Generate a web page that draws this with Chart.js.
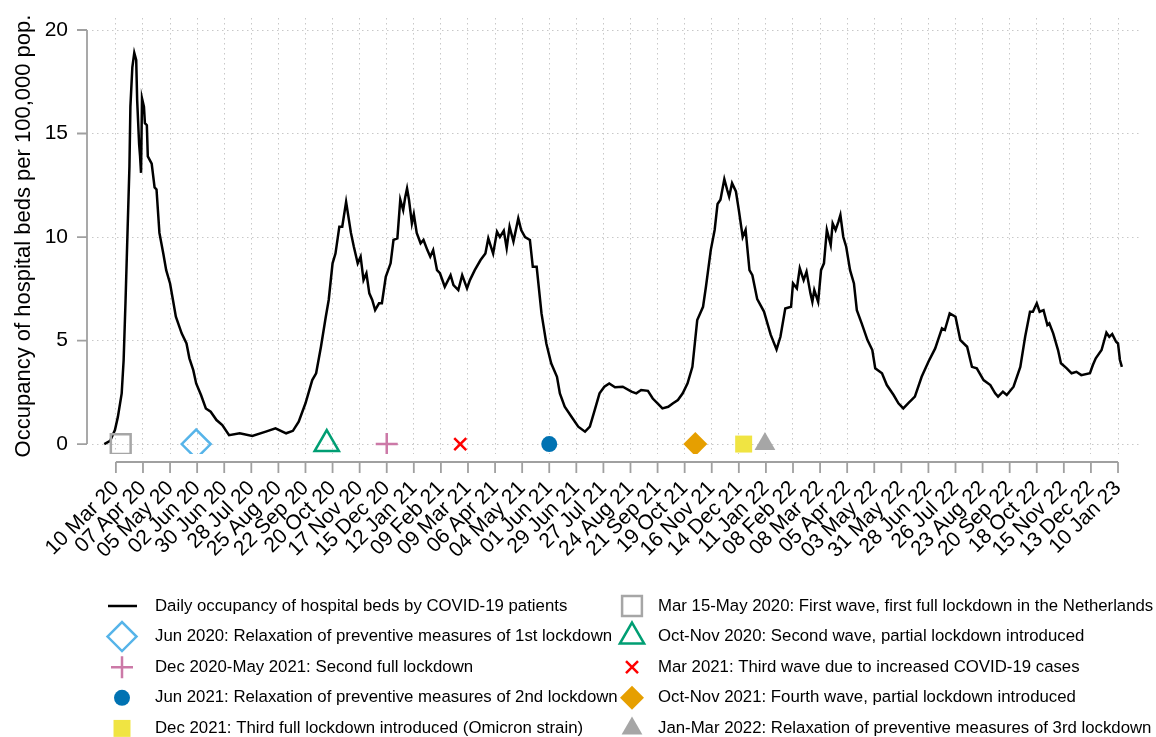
<!DOCTYPE html>
<html>
<head>
<meta charset="utf-8">
<script src="https://cdn.jsdelivr.net/npm/chart.js@4/dist/chart.umd.min.js"></script>
<style>
  html, body { margin: 0; padding: 0; background: #fff; }
  #wrap { width: 1156px; height: 737px; }
</style>
</head>
<body>
<div id="wrap"><canvas id="occChart" width="1156" height="737"></canvas></div>
<script>
// x labels, one every 28 days starting 10 Mar 2020
const tickLabels = ['10 Mar 20', '07 Apr 20', '05 May 20', '02 Jun 20', '30 Jun 20', '28 Jul 20', '25 Aug 20',
  '22 Sep 20', '20 Oct 20', '17 Nov 20', '15 Dec 20', '12 Jan 21', '09 Feb 21', '09 Mar 21', '06 Apr 21',
  '04 May 21', '01 Jun 21', '29 Jun 21', '27 Jul 21', '24 Aug 21', '21 Sep 21', '19 Oct 21', '16 Nov 21',
  '14 Dec 21', '11 Jan 22', '08 Feb 22', '08 Mar 22', '05 Apr 22', '03 May 22', '31 May 22', '28 Jun 22',
  '26 Jul 22', '23 Aug 22', '20 Sep 22', '18 Oct 22', '15 Nov 22', '13 Dec 22', '10 Jan 23'];
const tickStep = 28;
const yTicks = [0, 5, 10, 15, 20];

// days since 10 Mar 2020
const days = [-12, -6, -1, 2, 6, 8, 10, 12, 14, 15, 17, 19, 21, 22, 24, 25, 26, 27, 29, 30, 32, 33, 37, 40, 42,
  45, 49, 52, 56, 59, 62, 68, 73, 76, 80, 83, 88, 93, 98, 104, 110, 117, 128, 141, 155, 165, 176, 183, 189,
  196, 203, 207, 212, 217, 220, 224, 227, 231, 234, 238, 243, 246, 250, 253, 256, 259, 262, 265, 268, 272,
  275, 279, 284, 287, 291, 294, 297, 299, 301, 303, 306, 308, 311, 315, 318, 322, 325, 328, 332, 335, 340,
  346, 349, 354, 358, 363, 366, 371, 377, 382, 385, 390, 394, 397, 401, 404, 407, 411, 416, 419, 423, 428,
  431, 435, 440, 445, 450, 456, 459, 464, 471, 478, 485, 490, 495, 500, 505, 510, 516, 524, 533, 538, 543,
  550, 555, 560, 565, 571, 576, 581, 586, 591, 596, 601, 607, 610, 615, 619, 622, 625, 629, 632, 634, 637,
  641, 644, 648, 651, 655, 658, 663, 670, 677, 683, 687, 692, 698, 700, 704, 707, 711, 714, 718, 720, 722,
  726, 729, 732, 735, 739, 741, 744, 747, 749, 752, 755, 759, 763, 766, 771, 777, 782, 785, 792, 797, 804,
  809, 814, 819, 826, 833, 840, 847, 854, 857, 862, 868, 873, 880, 885, 890, 897, 904, 909, 912, 917, 921,
  928, 935, 940, 945, 948, 952, 955, 959, 963, 965, 969, 974, 977, 983, 988, 993, 998, 1007, 1010, 1013,
  1019, 1024, 1027, 1030, 1034, 1036, 1038, 1040];
const occupancy = [0, 0.15, 0.68, 1.3, 2.45, 4.05, 6.96, 10.2, 13.4, 16.3, 18.2, 18.9, 18.55, 16.6, 14.5, 13.9,
  13.1, 16.7, 16.3, 15.5, 15.4, 13.9, 13.55, 12.4, 12.3, 10.2, 9.2, 8.4, 7.76, 6.96, 6.15, 5.35, 4.86, 4.14,
  3.57, 2.93, 2.37, 1.72, 1.56, 1.16, 0.92, 0.43, 0.52, 0.39, 0.6, 0.76, 0.52, 0.64, 1.08, 1.97, 3.09, 3.42,
  4.7, 6.15, 6.96, 8.73, 9.2, 10.5, 10.5, 11.7, 10.2, 9.53, 8.73, 9.05, 7.92, 8.25, 7.28, 6.96, 6.47, 6.8,
  6.8, 8.08, 8.73, 9.86, 9.94, 11.8, 11.3, 11.9, 12.35, 11.8, 10.66, 11.1, 10.2, 9.7, 9.86, 9.37, 9.05, 9.37,
  8.4, 8.25, 7.6, 8.16, 7.68, 7.44, 8.16, 7.52, 7.92, 8.4, 8.89, 9.2, 9.94, 9.2, 10.26, 10.0, 10.3, 9.46,
  10.5, 9.78, 10.9, 10.34, 10.0, 9.86, 8.56, 8.56, 6.31, 4.86, 3.9, 3.25, 2.45, 1.8, 1.32, 0.84, 0.6, 0.84,
  1.64, 2.45, 2.77, 2.93, 2.74, 2.77, 2.53, 2.45, 2.61, 2.57, 2.2, 1.97, 1.72, 1.8, 1.97, 2.13, 2.45, 2.93,
  3.73, 5.99, 6.63, 7.6, 9.37, 10.34, 11.6, 11.8, 12.8, 12.27, 11.95, 12.6, 12.2, 11.3, 10.0, 10.34, 8.4,
  8.16, 7.0, 6.4, 5.27, 4.57, 5.18, 6.55, 6.63, 7.76, 7.52, 8.49, 7.92, 8.33, 7.28, 6.87, 7.44, 6.87, 8.4,
  8.73, 10.34, 9.61, 10.66, 10.34, 10.74, 11.06, 10.0, 9.53, 8.4, 7.76, 6.47, 5.83, 5.02, 4.54, 3.66, 3.42,
  2.85, 2.37, 1.97, 1.72, 1.97, 2.29, 3.25, 3.98, 4.62, 5.59, 5.51, 6.31, 6.15, 5.02, 4.7, 3.73, 3.66, 3.09,
  2.85, 2.45, 2.29, 2.53, 2.37, 2.77, 3.73, 5.18, 6.39, 6.39, 6.8, 6.39, 6.47, 5.75, 5.83, 5.35, 4.54, 3.9,
  3.66, 3.42, 3.49, 3.33, 3.42, 3.82, 4.14, 4.54, 5.38, 5.18, 5.31, 4.94, 4.86, 4.06, 3.73];
const seriesName = 'Daily occupancy of hospital beds by COVID-19 patients';

// events, drawn on the zero line
const eventNames = [
  'Mar 15-May 2020: First wave, first full lockdown in the Netherlands',
  'Jun 2020: Relaxation of preventive measures of 1st lockdown',
  'Oct-Nov 2020: Second wave, partial lockdown introduced',
  'Dec 2020-May 2021: Second full lockdown',
  'Mar 2021: Third wave due to increased COVID-19 cases',
  'Jun 2021: Relaxation of preventive measures of 2nd lockdown',
  'Oct-Nov 2021: Fourth wave, partial lockdown introduced',
  'Dec 2021: Third full lockdown introduced (Omicron strain)',
  'Jan-Mar 2022: Relaxation of preventive measures of 3rd lockdown'
];
const eventDays = [5, 83, 218, 280, 356, 448, 599, 649, 671];
const eventValues = [0, 0, 0, 0, 0, 0, 0, 0, 0];

// marker look for each event
const markerStyles = [
  { shape: 'rect', r: 14, color: '#a6a6a6', hollow: true },
  { shape: 'rectRot', r: 14.5, color: '#56b4e9', hollow: true },
  { shape: 'triangle', r: 14, color: '#009e73', hollow: true },
  { shape: 'cross', r: 11, color: '#cc79a7', hollow: true },
  { shape: 'crossRot', r: 8.5, color: '#ff0000', hollow: true },
  { shape: 'circle', r: 8, color: '#0072b2', hollow: false },
  { shape: 'rectRot', r: 12, color: '#e69f00', hollow: false },
  { shape: 'rect', r: 12, color: '#f0e442', hollow: false },
  { shape: 'triangle', r: 12, color: '#a6a6a6', hollow: false }
];

const FONT = '"Liberation Sans", Arial, sans-serif';
const AXIS_GREY = '#a0a0a0';

const datasets = [{
  label: seriesName,
  data: days.map((d, i) => ({ x: d, y: occupancy[i] })),
  showLine: true,
  borderColor: '#000',
  borderWidth: 2.5,
  pointRadius: 0,
  order: 2
}];
eventNames.forEach((name, i) => {
  const st = markerStyles[i];
  datasets.push({
    label: name,
    data: [{ x: eventDays[i], y: eventValues[i] }],
    pointStyle: st.shape,
    pointRadius: st.r,
    pointBorderColor: st.color,
    pointBackgroundColor: st.hollow ? 'rgba(0,0,0,0)' : st.color,
    pointBorderWidth: st.hollow ? 2.5 : 0.01,
    order: 1
  });
});

// Stata-like axes, set apart from the plot area
const offsetAxes = {
  id: 'offsetAxes',
  afterDraw(chart) {
    const { ctx, chartArea, scales: { x, y } } = chart;
    ctx.save();
    ctx.strokeStyle = AXIS_GREY;
    ctx.lineWidth = 1.8;
    const ax = chartArea.left - 5;
    ctx.beginPath();
    ctx.moveTo(ax, y.getPixelForValue(yTicks[0]));
    ctx.lineTo(ax, y.getPixelForValue(yTicks[yTicks.length - 1]));
    yTicks.forEach(v => {
      const py = y.getPixelForValue(v);
      ctx.moveTo(ax, py);
      ctx.lineTo(ax - 10, py);
    });
    const ay = chartArea.bottom + 8;
    ctx.moveTo(x.getPixelForValue(0), ay);
    ctx.lineTo(x.getPixelForValue((tickLabels.length - 1) * tickStep), ay);
    tickLabels.forEach((_, i) => {
      const px = x.getPixelForValue(i * tickStep);
      ctx.moveTo(px, ay);
      ctx.lineTo(px, ay + 11);
    });
    ctx.stroke();
    ctx.restore();
  }
};

// legend in two columns under the plot
const twoColLegend = {
  id: 'twoColLegend',
  afterDraw(chart) {
    const ctx = chart.ctx;
    const symX = [122, 632], textX = [155, 658];
    const rowY = 606, rowH = 30.6;
    chart.data.datasets.forEach((ds, i) => {
      const col = i % 2, row = Math.floor(i / 2);
      const cy = rowY + row * rowH;
      ctx.save();
      if (ds.showLine) {
        ctx.strokeStyle = ds.borderColor;
        ctx.lineWidth = ds.borderWidth;
        ctx.beginPath();
        ctx.moveTo(symX[col] - 14, cy);
        ctx.lineTo(symX[col] + 15, cy);
        ctx.stroke();
      } else if (Chart.helpers && Chart.helpers.drawPoint) {
        ctx.fillStyle = ds.pointBackgroundColor;
        ctx.strokeStyle = ds.pointBorderColor;
        ctx.lineWidth = ds.pointBorderWidth;
        Chart.helpers.drawPoint(ctx, {
          pointStyle: ds.pointStyle, radius: ds.pointRadius, rotation: 0, borderWidth: ds.pointBorderWidth
        }, symX[col], cy);
      }
      ctx.fillStyle = '#000';
      ctx.font = '16.8px ' + FONT;
      ctx.textBaseline = 'middle';
      ctx.textAlign = 'left';
      ctx.fillText(ds.label, textX[col], cy);
      ctx.restore();
    });
  }
};

new Chart(document.getElementById('occChart'), {
  type: 'scatter',
  data: { datasets: datasets },
  options: {
    responsive: false,
    animation: false,
    layout: { padding: { left: 0, right: 13, top: 18, bottom: 150 } },
    plugins: { legend: { display: false }, tooltip: { enabled: false } },
    scales: {
      x: {
        type: 'linear',
        min: -24.7,
        max: 1057.7,
        afterBuildTicks: s => { s.ticks = tickLabels.map((_, i) => ({ value: i * tickStep })); },
        afterFit: s => { s.height = 133; s.paddingLeft = 0; s.paddingRight = 0; },
        grid: { color: '#c8c8c8', lineWidth: 1, drawTicks: false },
        border: { display: false, dash: [1.5, 3.5] },
        ticks: {
          autoSkip: false,
          minRotation: 45,
          maxRotation: 45,
          padding: 22,
          color: '#000',
          font: { family: FONT, size: 21 },
          callback: (v, i) => tickLabels[i]
        }
      },
      y: {
        min: -0.48,
        max: 20.58,
        afterBuildTicks: s => { s.ticks = yTicks.map(v => ({ value: v })); },
        afterFit: s => { s.width = 92; s.paddingTop = 0; s.paddingBottom = 0; },
        grid: { color: '#c8c8c8', lineWidth: 1, drawTicks: false },
        border: { display: false, dash: [1.5, 3.5] },
        ticks: { padding: 24, color: '#000', font: { family: FONT, size: 21 } },
        title: {
          display: true,
          text: 'Occupancy of hospital beds per 100,000 pop.',
          color: '#000',
          font: { family: FONT, size: 22 },
          padding: { top: 11, bottom: 0 }
        }
      }
    }
  },
  plugins: [offsetAxes, twoColLegend]
});
</script>
</body>
</html>
